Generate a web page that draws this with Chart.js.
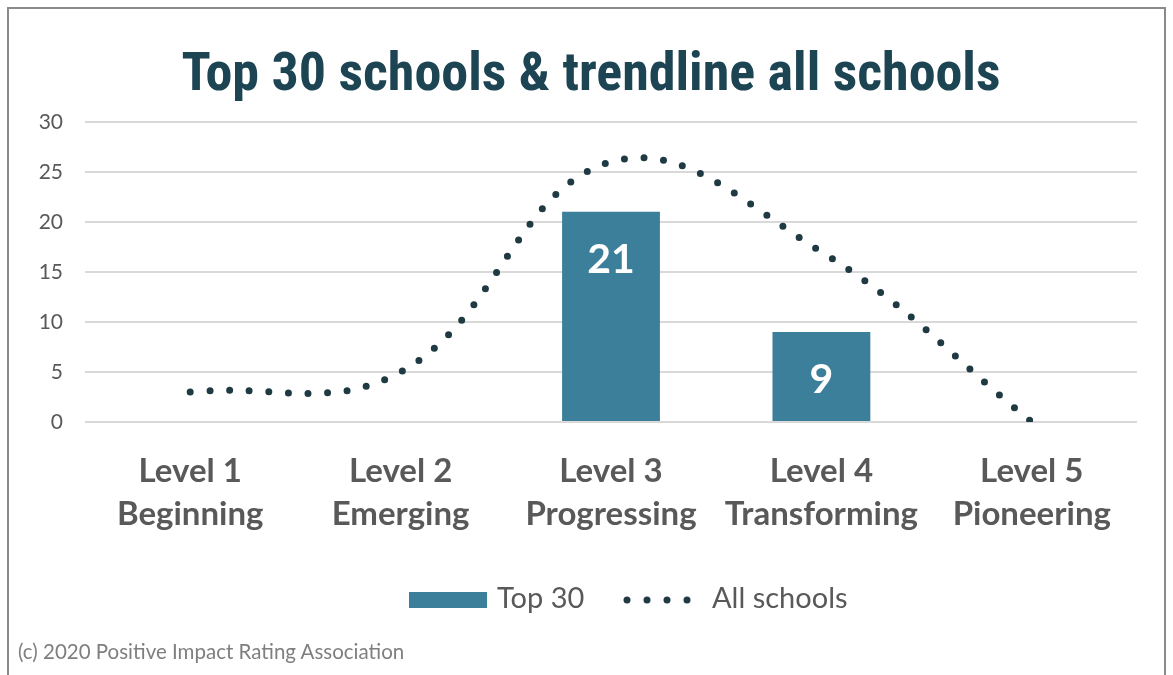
<!DOCTYPE html>
<html>
<head>
<meta charset="utf-8">
<script src="https://cdn.jsdelivr.net/npm/chart.js@4/dist/chart.umd.min.js"></script>
<style>
    html, body { margin: 0; padding: 0; background: #fff; }
    #wrap { position: relative; width: 1173px; height: 675px; }
    #frame { position: absolute; left: 7px; top: 7px; width: 1155px; height: 690px; border: 2px solid #8a8a8a; pointer-events: none; }
    #note { position: absolute; left: 18px; top: 639px; font: 20.5px Lato, sans-serif; color: #7f7f7f; }
</style>
</head>
<body>
<div id="wrap">
    <canvas id="chart" width="1173" height="675"></canvas>
    <div id="frame"></div>
    <div id="note">(c) 2020 Positive Impact Rating Association</div>
</div>
<script>
// --- Data ---
const levels = [
    ['Level 1', 'Beginning'],
    ['Level 2', 'Emerging'],
    ['Level 3', 'Progressing'],
    ['Level 4', 'Transforming'],
    ['Level 5', 'Pioneering']
];
const top30 = [null, null, 21, 9, null];
const allSchools = [3, 5, 26, 17, 0];
const yMin = 0, yMax = 30, yStep = 5;

// Colors
const barBlue = '#3b7f9a';
const dotDark = '#1f3a43';
const titleColor = '#1d4453';
const labelGray = '#595959';
const gridGray = '#d9d9d9';

// white value labels inside the bars
const barLabels = {
    id: 'barLabels',
    afterDatasetsDraw(chart) {
        const meta = chart.getDatasetMeta(0);
        const ctx = chart.ctx;
        ctx.save();
        ctx.fillStyle = '#fff';
        ctx.font = 'bold 41px Lato, sans-serif';
        ctx.textAlign = 'center';
        ctx.textBaseline = 'middle';
        meta.data.forEach((bar, i) => {
            const v = chart.data.datasets[0].data[i];
            if (v) ctx.fillText(String(v), bar.x, bar.y + 48);
        });
        ctx.restore();
    }
};

// legend: bar swatch + four dots
const customLegend = {
    id: 'customLegend',
    afterDraw(chart) {
        const ctx = chart.ctx;
        const ds = chart.data.datasets;
        const y = 600;
        ctx.save();
        ctx.font = '29px Lato, sans-serif';
        ctx.textBaseline = 'middle';
        ctx.fillStyle = ds[0].backgroundColor;
        ctx.fillRect(409, y - 8, 78, 16);
        ctx.fillStyle = labelGray;
        ctx.fillText(ds[0].label, 497, y - 1);
        ctx.fillStyle = ds[1].borderColor;
        for (let k = 0; k < 4; k++) {
            ctx.beginPath();
            ctx.arc(627 + k * 20, y, 3.5, 0, Math.PI * 2);
            ctx.fill();
        }
        ctx.fillStyle = labelGray;
        ctx.fillText(ds[1].label, 712, y - 1);
        ctx.restore();
    }
};

new Chart(document.getElementById('chart'), {
    data: {
        labels: levels,
        datasets: [
            {
                type: 'bar',
                label: 'Top 30',
                data: top30,
                backgroundColor: barBlue,
                categoryPercentage: 1,
                barPercentage: 0.465,
                order: 2
            },
            {
                type: 'line',
                label: 'All schools',
                data: allSchools,
                borderColor: dotDark,
                borderWidth: 7,
                borderDash: [0, 19.64],
                borderCapStyle: 'round',
                tension: 0.4,
                pointRadius: 0,
                fill: false,
                order: 1
            }
        ]
    },
    plugins: [barLabels, customLegend],
    options: {
        responsive: false,
        animation: false,
        layout: { padding: { left: 9, right: 0, top: 44, bottom: 0 } },
        plugins: {
            legend: { display: false },
            tooltip: { enabled: false },
            title: {
                display: true,
                text: 'Top 30 schools & trendline all schools',
                color: titleColor,
                font: { family: 'Roboto, sans-serif', size: 54, weight: 'bold condensed' },
                padding: { top: 0, bottom: 13 }
            }
        },
        scales: {
            x: {
                grid: { display: false },
                border: { display: false },
                ticks: {
                    color: labelGray,
                    font: { family: 'Lato, sans-serif', size: 33, weight: 'bold', lineHeight: 1.3 },
                    padding: 20,
                    maxRotation: 0,
                    autoSkip: false
                },
                afterFit(scale) { scale.height = 253; }
            },
            y: {
                min: yMin,
                max: yMax,
                ticks: {
                    stepSize: yStep,
                    color: labelGray,
                    font: { family: 'Lato, sans-serif', size: 21 },
                    padding: 22
                },
                grid: { color: gridGray, lineWidth: 2, drawTicks: false },
                border: { display: false },
                afterFit(scale) { scale.width = 76; }
            },
            // empty right-hand spacer so the title centres like the original
            yRight: {
                position: 'right',
                grid: { display: false },
                border: { display: false },
                ticks: { display: false },
                afterFit(scale) { scale.width = 36; }
            }
        }
    }
});
</script>
</body>
</html>
